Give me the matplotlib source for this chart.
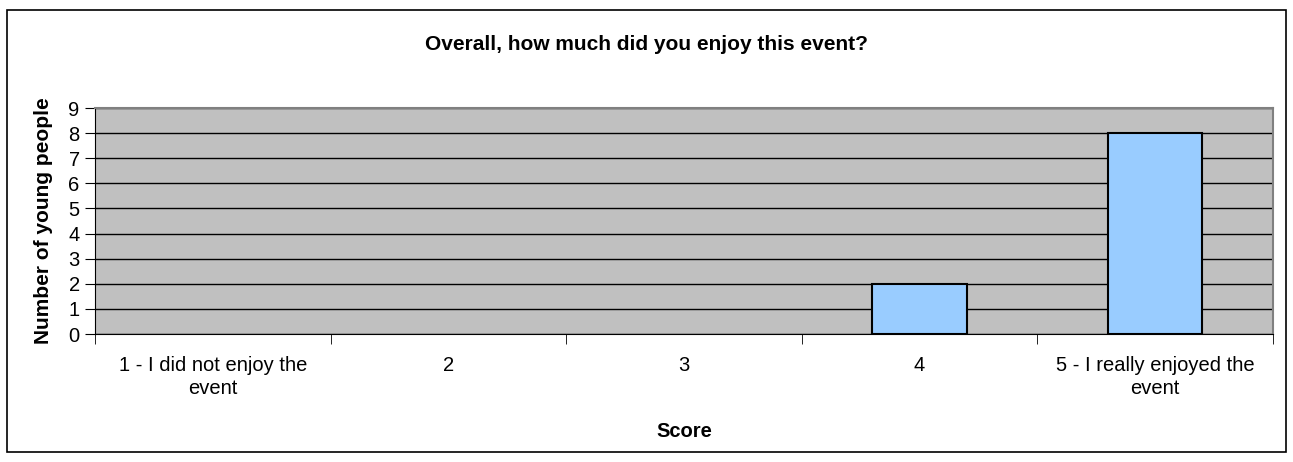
import matplotlib
matplotlib.use("Agg")
import matplotlib.pyplot as plt
from matplotlib.patches import Rectangle
import numpy as np

plt.rcParams['font.family'] = ['Liberation Sans', 'DejaVu Sans']

categories = ["1 - I did not enjoy the\nevent", "2", "3", "4", "5 - I really enjoyed the\nevent"]
counts = [0, 0, 0, 2, 8]
y_ticks = list(range(0, 10))

fig = plt.figure(figsize=(12.93, 4.62), dpi=100)
ax = fig.add_axes([95 / 1293, 1 - 334 / 462, (1273 - 95) / 1293, (334 - 108) / 462])

x = np.arange(len(categories))
vals = np.array(counts)
ax.set_facecolor("#C0C0C0")
ax.set_axisbelow(True)
ax.yaxis.grid(True, color="black", linewidth=1)
# empty categories draw no bar at all
has = vals > 0
ax.bar(x[has], vals[has], width=0.4, color="#99CCFF", edgecolor="black", linewidth=1.5, zorder=3)

ax.set_xlim(-0.5, len(categories) - 0.5)
ax.set_ylim(0, 9)
ax.set_yticks(y_ticks)
ax.set_xticks(x)
ax.set_xticklabels(categories, fontsize=14.5, linespacing=1.25)
ax.set_xticks(np.arange(-0.5, len(categories), 1), minor=True)
ax.tick_params(axis="x", which="major", length=0, pad=16)
ax.tick_params(axis="x", which="minor", length=7, direction="out", color="black")
ax.tick_params(axis="y", length=7, labelsize=14.5, pad=4)

for side in ["top", "right"]:
    ax.spines[side].set_color("#808080")
    ax.spines[side].set_linewidth(1.5)
ax.spines["bottom"].set_color("black")
ax.spines["left"].set_color("black")

ax.set_xlabel("Score", fontsize=14.5, fontweight="bold", labelpad=17)
ax.set_ylabel("Number of young people", fontsize=15, fontweight="bold", labelpad=11)
fig.text(0.5, 1 - 45 / 462, "Overall, how much did you enjoy this event?",
         ha="center", va="center", fontsize=15, fontweight="bold")

# outer chart border
fig.patches.append(Rectangle((7 / 1293, 1 - 452 / 462), (1286 - 7) / 1293, (452 - 10) / 462,
                             transform=fig.transFigure, fill=False, edgecolor="black", linewidth=1.2))

fig.savefig("out.png", dpi=100)
